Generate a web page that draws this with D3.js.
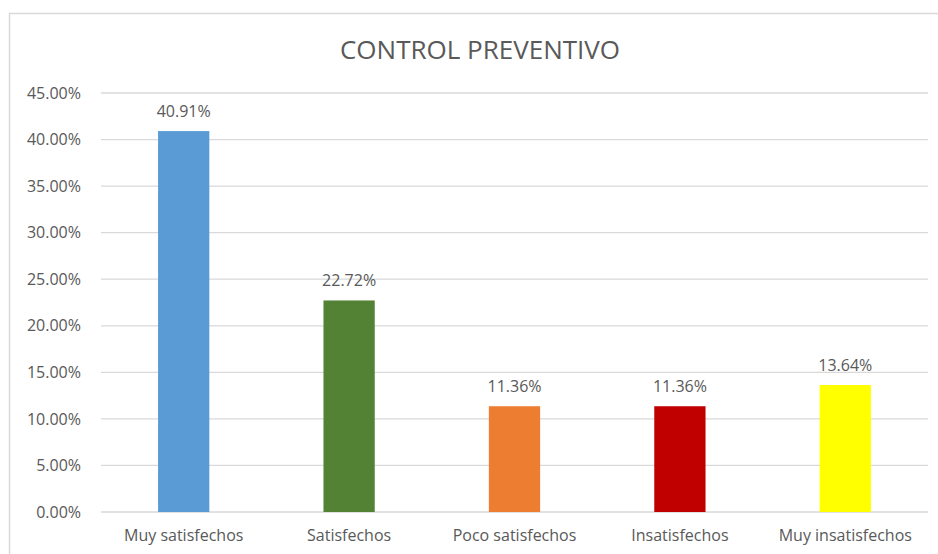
<!DOCTYPE html>
<html>
<head>
<meta charset="utf-8">
<script src="https://cdn.jsdelivr.net/npm/d3@7"></script>
<style>
  body { margin: 0; background: #fff; }
  text { font-family: "Open Sans", "Liberation Sans", sans-serif; fill: #595959; }
</style>
</head>
<body>
<div id="chart"></div>
<script>
var categories = ["Muy satisfechos", "Satisfechos", "Poco satisfechos", "Insatisfechos", "Muy insatisfechos"];
var values = [0.4091, 0.2272, 0.1136, 0.1136, 0.1364];
var valueLabels = ["40.91%", "22.72%", "11.36%", "11.36%", "13.64%"];
var colors = ["#5B9BD5", "#548235", "#ED7D31", "#C00000", "#FFFF00"];
var yTicks = [0, 0.05, 0.10, 0.15, 0.20, 0.25, 0.30, 0.35, 0.40, 0.45];

var W = 938, H = 554;
var margin = { top: 93, right: 10, bottom: 42, left: 101 };
var width = W - margin.left - margin.right,
    height = H - margin.top - margin.bottom;

var svg = d3.select("#chart").append("svg")
  .attr("width", W)
  .attr("height", H);

// chart frame
svg.append("rect")
  .attr("x", 9.5).attr("y", 13.5)
  .attr("width", W + 10).attr("height", H + 10)
  .attr("fill", "none")
  .attr("stroke", "#d9d9d9")
  .attr("stroke-width", 1.5);

svg.append("text")
  .attr("x", 480).attr("y", 59)
  .attr("text-anchor", "middle")
  .style("font-size", "26px")
  .text("CONTROL PREVENTIVO");

var g = svg.append("g")
  .attr("transform", "translate(" + margin.left + "," + margin.top + ")");

var x = d3.scaleBand().domain(categories).range([0, width]).paddingInner(0.69).paddingOuter(0.345);
var y = d3.scaleLinear().domain([0, 0.45]).range([height, 0]);

// grid
g.selectAll(".grid")
  .data(yTicks)
  .enter().append("line")
  .attr("class", "grid")
  .attr("x1", 0).attr("x2", width)
  .attr("y1", function(d) { return y(d); })
  .attr("y2", function(d) { return y(d); })
  .attr("stroke", "#d9d9d9")
  .attr("stroke-width", 1.3);

var yAxis = g.append("g")
  .call(d3.axisLeft(y).tickValues(yTicks).tickFormat(d3.format(".2%")).tickSize(0).tickPadding(20));
yAxis.select(".domain").remove();
yAxis.selectAll("text").style("font-size", "16px").attr("fill", "#595959");

g.selectAll(".bar")
  .data(values)
  .enter().append("rect")
  .attr("class", "bar")
  .attr("x", function(d, i) { return x(categories[i]); })
  .attr("width", x.bandwidth())
  .attr("y", function(d) { return y(d); })
  .attr("height", function(d) { return height - y(d); })
  .attr("fill", function(d, i) { return colors[i]; });

g.selectAll(".vlabel")
  .data(values)
  .enter().append("text")
  .attr("class", "vlabel")
  .attr("x", function(d, i) { return x(categories[i]) + x.bandwidth() / 2; })
  .attr("y", function(d) { return y(d) - 14; })
  .attr("text-anchor", "middle")
  .style("font-size", "16px")
  .text(function(d, i) { return valueLabels[i]; });

var xAxis = g.append("g")
  .attr("transform", "translate(0," + height + ")")
  .call(d3.axisBottom(x).tickSize(0).tickPadding(18));
xAxis.select(".domain").remove();
xAxis.selectAll("text").style("font-size", "16px").attr("fill", "#595959");
</script>
</body>
</html>
